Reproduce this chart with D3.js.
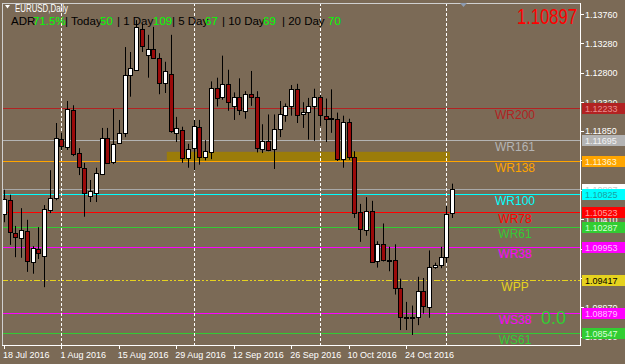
<!DOCTYPE html>
<html>
<head>
<meta charset="utf-8">
<script src="https://cdn.jsdelivr.net/npm/d3@7"></script>
<style>
body { margin: 0; background: #7b6a56; }
svg { display: block; }
text { font-family: "Liberation Sans", Arial, sans-serif; }
</style>
</head>
<body>
<div id="chart"></div>
<script>
// daily bars, Jul 18 - Nov 2 2016 (incl. the short sunday bar of Oct 30)
var dates = ["2016-07-18", "2016-07-19", "2016-07-20", "2016-07-21", "2016-07-22", "2016-07-25", "2016-07-26", "2016-07-27", "2016-07-28", "2016-07-29",
    "2016-08-01", "2016-08-02", "2016-08-03", "2016-08-04", "2016-08-05", "2016-08-08", "2016-08-09", "2016-08-10", "2016-08-11", "2016-08-12",
    "2016-08-15", "2016-08-16", "2016-08-17", "2016-08-18", "2016-08-19", "2016-08-22", "2016-08-23", "2016-08-24", "2016-08-25", "2016-08-26",
    "2016-08-29", "2016-08-30", "2016-08-31", "2016-09-01", "2016-09-02", "2016-09-05", "2016-09-06", "2016-09-07", "2016-09-08", "2016-09-09",
    "2016-09-12", "2016-09-13", "2016-09-14", "2016-09-15", "2016-09-16", "2016-09-19", "2016-09-20", "2016-09-21", "2016-09-22", "2016-09-23",
    "2016-09-26", "2016-09-27", "2016-09-28", "2016-09-29", "2016-09-30", "2016-10-03", "2016-10-04", "2016-10-05", "2016-10-06", "2016-10-07",
    "2016-10-10", "2016-10-11", "2016-10-12", "2016-10-13", "2016-10-14", "2016-10-17", "2016-10-18", "2016-10-19", "2016-10-20", "2016-10-21",
    "2016-10-24", "2016-10-25", "2016-10-26", "2016-10-27", "2016-10-28", "2016-10-30", "2016-10-31", "2016-11-01", "2016-11-02"];

var opens = [1.1050, 1.1072, 1.1019, 1.1010, 1.1022, 1.0971, 1.0992, 1.0981, 1.1056, 1.1076,
    1.1172, 1.1159, 1.1219, 1.1149, 1.1125, 1.1079, 1.1084, 1.1116, 1.1174, 1.1134,
    1.1165, 1.1182, 1.1276, 1.1285, 1.1352, 1.1309, 1.1319, 1.1304, 1.1263, 1.1278,
    1.1182, 1.1187, 1.1141, 1.1157, 1.1192, 1.1143, 1.1152, 1.1256, 1.1240, 1.1262,
    1.1225, 1.1240, 1.1218, 1.1245, 1.1240, 1.1156, 1.1169, 1.1155, 1.1188, 1.1212,
    1.1226, 1.1254, 1.1212, 1.1216, 1.1225, 1.1240, 1.1210, 1.1205, 1.1205, 1.1140,
    1.1200, 1.1143, 1.1052, 1.1024, 1.1055, 1.0972, 1.1000, 1.0974, 1.0974, 1.0928,
    1.0880, 1.0882, 1.0880, 1.0923, 1.0898, 1.0963, 1.0966, 1.0979, 1.1050];
var highs = [1.1089, 1.1081, 1.1030, 1.1059, 1.1040, 1.0997, 1.1028, 1.1064, 1.1121, 1.1198,
    1.1182, 1.1234, 1.1227, 1.1157, 1.1133, 1.1105, 1.1125, 1.1190, 1.1190, 1.1221,
    1.1203, 1.1322, 1.1314, 1.1366, 1.1360, 1.1342, 1.1355, 1.1312, 1.1298, 1.1342,
    1.1208, 1.1192, 1.1164, 1.1203, 1.1203, 1.1170, 1.1266, 1.1272, 1.1308, 1.1285,
    1.1248, 1.1271, 1.1250, 1.1283, 1.1250, 1.1196, 1.1212, 1.1212, 1.1234, 1.1230,
    1.1260, 1.1262, 1.1232, 1.1239, 1.1254, 1.1244, 1.1238, 1.1253, 1.1215, 1.1210,
    1.1205, 1.1152, 1.1066, 1.1077, 1.1071, 1.1005, 1.1034, 1.0996, 1.1000, 1.0944,
    1.0906, 1.0900, 1.0947, 1.0945, 1.0990, 1.0970, 1.0996, 1.1063, 1.1099];
var lows = [1.1036, 1.0999, 1.0979, 1.0978, 1.0955, 1.0952, 1.0976, 1.0930, 1.1051, 1.1072,
    1.1154, 1.1154, 1.1144, 1.1113, 1.1045, 1.1069, 1.1069, 1.1113, 1.1133, 1.1131,
    1.1164, 1.1175, 1.1241, 1.1285, 1.1314, 1.1272, 1.1303, 1.1245, 1.1247, 1.1182,
    1.1167, 1.1133, 1.1125, 1.1121, 1.1130, 1.1137, 1.1139, 1.1225, 1.1236, 1.1218,
    1.1203, 1.1211, 1.1205, 1.1226, 1.1150, 1.1149, 1.1152, 1.1123, 1.1175, 1.1200,
    1.1210, 1.1198, 1.1190, 1.1171, 1.1169, 1.1193, 1.1167, 1.1182, 1.1136, 1.1125,
    1.1138, 1.1043, 1.1004, 1.1014, 1.0971, 1.0962, 1.0972, 1.0956, 1.0918, 1.0860,
    1.0860, 1.0852, 1.0868, 1.0887, 1.0880, 1.0960, 1.0961, 1.0970, 1.1043];
var closes = [1.1074, 1.1019, 1.1012, 1.1023, 1.0973, 1.0994, 1.0986, 1.1058, 1.1076, 1.1174,
    1.1161, 1.1221, 1.1147, 1.1126, 1.1085, 1.1087, 1.1116, 1.1174, 1.1134, 1.1164,
    1.1182, 1.1276, 1.1288, 1.1355, 1.1324, 1.1319, 1.1304, 1.1263, 1.1283, 1.1185,
    1.1190, 1.1141, 1.1156, 1.1193, 1.1143, 1.1152, 1.1256, 1.1240, 1.1262, 1.1233,
    1.1240, 1.1218, 1.1245, 1.1240, 1.1156, 1.1169, 1.1155, 1.1188, 1.1212, 1.1226,
    1.1254, 1.1212, 1.1216, 1.1225, 1.1240, 1.1210, 1.1205, 1.1206, 1.1140, 1.1200,
    1.1143, 1.1052, 1.1024, 1.1055, 1.0972, 1.1000, 1.0974, 1.0975, 1.0928, 1.0880,
    1.0882, 1.0880, 1.0923, 1.0898, 1.0963, 1.0966, 1.0979, 1.1050, 1.10897];

var levelNames = ["WR200", "WR161", "WR138", "WR100", "WR78", "WR61", "WR38", "WPP", "WS38", "WS61"];
var levelPrices = [1.12233, 1.11695, 1.11363, 1.10825, 1.10523, 1.10287, 1.09953, 1.09417, 1.08879, 1.08547];
var bidPrice = 1.10897;

var priceTicks = [1.13760, 1.13280, 1.12800, 1.12320, 1.11850, 1.11370, 1.10890, 1.10410, 1.09930, 1.09450, 1.08970, 1.08490];
var dateTicks = ["2016-07-18", "2016-08-01", "2016-08-15", "2016-08-29", "2016-09-12", "2016-09-26", "2016-10-10", "2016-10-24"];
var separatorDates = ["2016-08-01", "2016-09-01", "2016-10-03", "2016-11-01"];

var zoneDates = ["2016-08-25", "2016-11-02"];
var zonePrices = [1.1151, 1.1136];

var adrLabels = ["ADR", "| Today", "| 1 Day", "| 5 Day", "| 10 Day", "|  20 Day"];
var adrValues = ["71.5%", "50", "109", "67", "69", "70"];
var weeklyPips = "0.0";

// styles
var levelColors = {
    WR200: "#b22222", WR161: "#b4b4b4", WR138: "#ffa500", WR100: "#00ffff", WR78: "#ff0000",
    WR61: "#32cd32", WR38: "#ff00ff", WPP: "#e6d21e", WS38: "#ff00ff", WS61: "#32cd32"
};
var boxText = {
    WR200: "#e89090", WR161: "#f2f2f2", WR138: "#fff4d0", WR100: "#1aa0a0", WR78: "#ffa0a0",
    WR61: "#d8ffd8", WR38: "#ffc0ff", WPP: "#000000", WS38: "#ffc0ff", WS61: "#d8ffd8"
};
var bg = "#7b6a56";

var W = 625, H = 364;
var plotLeft = 2, plotTop = 3, plotRight = 580, plotBottom = 345;
var pf = d3.format(".5f");

var svg = d3.select("#chart").append("svg").attr("width", W).attr("height", H);
svg.append("rect").attr("width", W).attr("height", H).attr("fill", bg);

var x = d3.scalePoint().domain(dates).range([4, 452]);
var y = d3.scaleLinear().domain([1.13760, 1.08490]).range([14, 336.8]);

function px(v) { return Math.round(v) + 0.5; }

svg.append("clipPath").attr("id", "plotclip")
    .append("rect").attr("x", plotLeft).attr("y", plotTop)
    .attr("width", plotRight - plotLeft).attr("height", plotBottom - plotTop);

var plot = svg.append("g").attr("clip-path", "url(#plotclip)");

// gold zone
plot.append("rect")
    .attr("x", x(zoneDates[0]) + 2)
    .attr("width", x(zoneDates[1]) - x(zoneDates[0]) - 4)
    .attr("y", y(zonePrices[0]))
    .attr("height", y(zonePrices[1]) - y(zonePrices[0]))
    .attr("fill", "#9b7c0a");

// pivot lines
plot.selectAll("line.lvl")
    .data(levelNames)
    .enter()
    .append("line")
    .attr("class", "lvl")
    .attr("x1", plotLeft).attr("x2", plotRight)
    .attr("y1", function (d, i) { return px(y(levelPrices[i])); })
    .attr("y2", function (d, i) { return px(y(levelPrices[i])); })
    .attr("stroke", function (d) { return levelColors[d]; })
    .attr("stroke-width", 1)
    .attr("stroke-dasharray", function (d) { return d === "WPP" ? "6,2,2,2,2,2" : null; });

// bid line
plot.append("line")
    .attr("x1", plotLeft).attr("x2", plotRight)
    .attr("y1", px(y(bidPrice))).attr("y2", px(y(bidPrice)))
    .attr("stroke", "#a8a8a8");

// period separators
plot.selectAll("line.sep")
    .data(separatorDates)
    .enter()
    .append("line")
    .attr("class", "sep")
    .attr("x1", function (d) { return px(x(d)); })
    .attr("x2", function (d) { return px(x(d)); })
    .attr("y1", plotTop).attr("y2", plotBottom)
    .attr("stroke", "#ffffff")
    .attr("stroke-dasharray", "3,2");

// candles
var bars = dates.map(function (d, i) { return { d: d, o: opens[i], h: highs[i], l: lows[i], c: closes[i] }; });

plot.selectAll("line.wick")
    .data(bars)
    .enter()
    .append("line")
    .attr("class", "wick")
    .attr("x1", function (b) { return px(x(b.d)); })
    .attr("x2", function (b) { return px(x(b.d)); })
    .attr("y1", function (b) { return y(b.h); })
    .attr("y2", function (b) { return y(b.l); })
    .attr("stroke", "#000000");

plot.selectAll("rect.body")
    .data(bars)
    .enter()
    .append("rect")
    .attr("class", "body")
    .attr("x", function (b) { return Math.round(x(b.d)) - 1.5; })
    .attr("width", 4)
    .attr("y", function (b) { return Math.round(y(Math.max(b.o, b.c))) + 0.5; })
    .attr("height", function (b) { return Math.max(1, Math.round(Math.abs(y(b.o) - y(b.c)))); })
    .attr("fill", function (b) { return b.c >= b.o ? "#ffffff" : "#9b0a0a"; })
    .attr("stroke", "#000000")
    .attr("stroke-width", 1);

// level names
plot.selectAll("text.lvlname")
    .data(levelNames)
    .enter()
    .append("text")
    .attr("class", "lvlname")
    .attr("x", 515)
    .attr("y", function (d, i) { return y(levelPrices[i]) + 11; })
    .attr("text-anchor", "middle")
    .attr("font-size", "12px")
    .attr("fill", function (d) { return levelColors[d]; })
    .text(function (d) { return d; });

plot.append("text")
    .attr("x", 541).attr("y", 323.5)
    .attr("font-size", "18px")
    .attr("fill", "#32cd32")
    .text(weeklyPips);

// frame
svg.append("line").attr("x1", plotLeft).attr("x2", plotRight).attr("y1", 3.5).attr("y2", 3.5).attr("stroke", "#d0d0d0");
svg.append("line").attr("x1", 2.5).attr("x2", 2.5).attr("y1", plotTop).attr("y2", plotBottom).attr("stroke", "#d0d0d0");
svg.append("line").attr("x1", 580.5).attr("x2", 580.5).attr("y1", plotTop).attr("y2", plotBottom + 1).attr("stroke", "#ffffff");
svg.append("line").attr("x1", plotLeft).attr("x2", plotRight).attr("y1", 345.5).attr("y2", 345.5).attr("stroke", "#ffffff");

// chart shift marker
svg.append("path").attr("d", "M460,3L467,3L463.5,7Z").attr("fill", "#8d9bb0");

// header
svg.append("path").attr("d", "M5,5L10,5L7.5,8.5Z").attr("fill", "#ffffff");
svg.append("text").attr("x", 15).attr("y", 12).attr("font-size", "10px")
    .attr("textLength", 53).attr("lengthAdjust", "spacingAndGlyphs")
    .attr("fill", "#ffffff").text("EURUSD,Daily");

var adrLabelX = [11, 65, 117, 172, 222, 282];
var adrValueX = [33, 100, 153, 205, 263, 328];
svg.selectAll("text.adrl")
    .data(adrLabels)
    .enter()
    .append("text")
    .attr("class", "adrl")
    .attr("x", function (d, i) { return adrLabelX[i]; })
    .attr("y", 25)
    .attr("font-size", "11.5px")
    .attr("fill", "#000000")
    .text(function (d) { return d; });
svg.selectAll("text.adrv")
    .data(adrValues)
    .enter()
    .append("text")
    .attr("class", "adrv")
    .attr("x", function (d, i) { return adrValueX[i]; })
    .attr("y", 25)
    .attr("font-size", "11.5px")
    .attr("fill", "#00ff00")
    .text(function (d) { return d; });

svg.append("text")
    .attr("x", 517).attr("y", 24)
    .attr("font-size", "22px")
    .attr("textLength", 60).attr("lengthAdjust", "spacingAndGlyphs")
    .attr("fill", "#ff0000")
    .text(pf(bidPrice));

// price axis
var yAxis = svg.append("g");
yAxis.selectAll("line")
    .data(priceTicks)
    .enter()
    .append("line")
    .attr("x1", 581).attr("x2", 584)
    .attr("y1", function (d) { return px(y(d)); })
    .attr("y2", function (d) { return px(y(d)); })
    .attr("stroke", "#ffffff");
yAxis.selectAll("text")
    .data(priceTicks)
    .enter()
    .append("text")
    .attr("x", 585)
    .attr("y", function (d) { return y(d) + 3.5; })
    .attr("font-size", "9px")
    .attr("fill", "#ffffff")
    .text(function (d) { return pf(d); });

// date axis
var parse = d3.timeParse("%Y-%m-%d");
var fmt = d3.timeFormat("%-d %b %Y");
var xAxis = svg.append("g");
xAxis.selectAll("line")
    .data(dateTicks)
    .enter()
    .append("line")
    .attr("x1", function (d) { return px(x(d)); })
    .attr("x2", function (d) { return px(x(d)); })
    .attr("y1", 345).attr("y2", 349)
    .attr("stroke", "#ffffff");
xAxis.selectAll("text")
    .data(dateTicks)
    .enter()
    .append("text")
    .attr("x", function (d) { return x(d) - 1; })
    .attr("y", 357.5)
    .attr("font-size", "9px")
    .attr("fill", "#ffffff")
    .text(function (d) { return fmt(parse(d)); });

// price boxes on the axis (they sit over the tick labels, as in the terminal)
var boxes = [{ name: "bid", p: bidPrice }].concat(levelNames.map(function (d, i) { return { name: d, p: levelPrices[i] }; }));
var bx = svg.selectAll("g.box")
    .data(boxes)
    .enter()
    .append("g")
    .attr("class", "box");
bx.append("rect")
    .attr("x", 582).attr("width", 43)
    .attr("y", function (b) { return Math.round(y(b.p)) - 5; })
    .attr("height", 11)
    .attr("fill", function (b) { return b.name === "bid" ? "#ffffff" : levelColors[b.name]; });
bx.append("text")
    .attr("x", 585)
    .attr("y", function (b) { return Math.round(y(b.p)) + 4; })
    .attr("font-size", "9px")
    .attr("fill", function (b) { return b.name === "bid" ? "#c8c8c8" : boxText[b.name]; })
    .text(function (b) { return pf(b.p); });
</script>
</body>
</html>
